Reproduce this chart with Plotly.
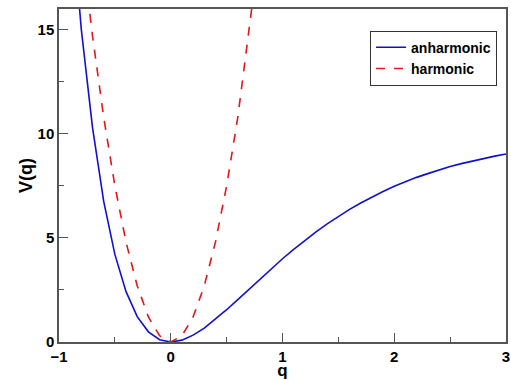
import plotly.graph_objects as go

# anharmonic (Morse-like) curve
q_anh = [-0.9, -0.8, -0.7, -0.6, -0.5, -0.4, -0.3, -0.2, -0.1, 0.0,
         0.1, 0.2, 0.3, 0.4, 0.5, 0.6, 0.7, 0.8, 0.9, 1.0,
         1.1, 1.2, 1.3, 1.4, 1.5, 1.6, 1.7, 1.8, 1.9, 2.0,
         2.1, 2.2, 2.3, 2.4, 2.5, 2.6, 2.7, 2.8, 2.9, 3.0]
v_anh = [21.3, 15.0, 10.3, 6.76, 4.21, 2.42, 1.22, 0.49, 0.11, 0.0,
         0.09, 0.33, 0.67, 1.09, 1.55, 2.04, 2.53, 3.03, 3.52, 4.0,
         4.45, 4.88, 5.29, 5.68, 6.04, 6.37, 6.68, 6.97, 7.23, 7.48,
         7.70, 7.91, 8.09, 8.27, 8.43, 8.57, 8.70, 8.82, 8.93, 9.03]

# harmonic curve
q_harm = [-0.8, -0.7, -0.6, -0.5, -0.4, -0.3, -0.2, -0.1, 0.0,
          0.1, 0.2, 0.3, 0.4, 0.5, 0.6, 0.7, 0.8]
v_harm = [19.2, 14.7, 10.8, 7.5, 4.8, 2.7, 1.2, 0.3, 0.0,
          0.3, 1.2, 2.7, 4.8, 7.5, 10.8, 14.7, 19.2]

fig = go.Figure()
fig.add_trace(go.Scatter(x=q_anh, y=v_anh, mode='lines', name='anharmonic',
                         line=dict(color='#1010d0', width=1.6)))
fig.add_trace(go.Scatter(x=q_harm, y=v_harm, mode='lines', name='harmonic',
                         line=dict(color='#e01818', width=1.6, dash='dash')))

axis_common = dict(
    showgrid=False, zeroline=False, automargin=False,
    showline=True, linecolor='#555555', linewidth=1.5, mirror=True,
    ticks='inside', ticklen=9, tickwidth=1.2, tickcolor='#555555',
    tickfont=dict(family='Liberation Sans', size=15, color='black', weight='bold'),
)

fig.update_layout(
    width=511, height=380,
    margin=dict(l=59, r=5, t=9, b=38),
    paper_bgcolor='white', plot_bgcolor='white',
    font=dict(family='Liberation Sans', color='black'),
    xaxis=dict(range=[-1, 3], dtick=1, tick0=-1,
               minor=dict(dtick=0.5, ticks='inside', ticklen=5, tickcolor='#555555'),
               title=dict(text='q', font=dict(size=17, weight='bold'), standoff=3),
               **axis_common),
    yaxis=dict(range=[0, 16], dtick=5, tick0=0,
               minor=dict(dtick=2.5, ticks='inside', ticklen=5, tickcolor='#555555'),
               title=dict(text='V(q)', font=dict(size=18, weight='bold'), standoff=0),
               **axis_common),
    showlegend=True,
    legend=dict(x=0.98, y=0.935, xanchor='right', yanchor='top',
                bgcolor='white', bordercolor='#333333', borderwidth=1,
                font=dict(size=14, weight='bold'), itemwidth=30,
                tracegroupgap=0),
)

fig.write_html("out.html", config={'displayModeBar': False})

# pin the figure to the page corner with no scrolling area
with open("out.html") as fh:
    page = fh.read()
page = page.replace("<body>", '<body style="margin:0;overflow:hidden">', 1)
with open("out.html", "w") as fh:
    fh.write(page)
